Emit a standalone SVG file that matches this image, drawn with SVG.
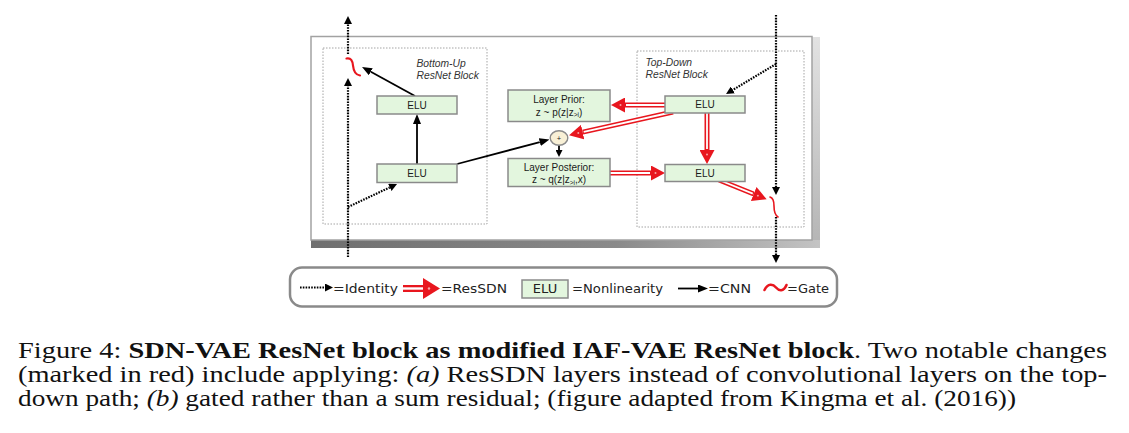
<svg xmlns="http://www.w3.org/2000/svg" width="1129" height="433" viewBox="0 0 1129 433">
<defs>
<style>
.sans{font-family:"Liberation Sans",Arial,sans-serif;fill:#1a1a1a}
.lbl{font-family:"Liberation Sans",Arial,sans-serif;font-style:italic;font-size:10.3px;fill:#333}
.box{fill:#e3f6de;stroke:#8a8a8a;stroke-width:1.5}
.blk{fill:none;stroke:#9a9a9a;stroke-width:0.9;stroke-dasharray:1.5 1.5}
.id{fill:none;stroke:#000;stroke-width:2.2;stroke-dasharray:1.6 1.2}
.cnn{fill:none;stroke:#000;stroke-width:1.8}
.so{fill:none;stroke:#e8161e;stroke-width:5}
.si{fill:none;stroke:#fff;stroke-width:1.8}
.gate{fill:none;stroke:#e8161e;stroke-linecap:round}
.lg{font-family:"DejaVu Sans",Verdana,sans-serif;font-size:13px;fill:#222}
.cap{font-family:"Liberation Serif","Times New Roman",serif;font-size:24px;fill:#111}
</style>
<marker id="idh" markerUnits="userSpaceOnUse" markerWidth="8" markerHeight="8" viewBox="0 0 8 8" refX="0" refY="4" orient="auto"><path d="M0,0 L8,4 L0,8 Z" fill="#000"/></marker>
<marker id="cnnh" markerUnits="userSpaceOnUse" markerWidth="10" markerHeight="8" viewBox="0 0 10 8" refX="0" refY="4" orient="auto"><path d="M0,0 L10,4 L0,8 Z" fill="#000"/></marker>
<marker id="cnns" markerUnits="userSpaceOnUse" markerWidth="7" markerHeight="7" viewBox="0 0 7 7" refX="0" refY="3.5" orient="auto"><path d="M0,0 L7,3.5 L0,7 Z" fill="#000"/></marker>
<marker id="sdnh" markerUnits="userSpaceOnUse" markerWidth="14" markerHeight="15" viewBox="0 0 14 15" refX="0" refY="7.5" orient="auto"><path d="M0,0 L14,7.5 L0,15 Z" fill="#e8161e"/><circle cx="4.5" cy="7.5" r="1" fill="#f6a3a3"/></marker>
<linearGradient id="shB" x1="0" y1="0" x2="1" y2="0"><stop offset="0" stop-color="#6f6f6f"/><stop offset="0.6" stop-color="#8a8a8a"/><stop offset="1" stop-color="#c4c4c4"/></linearGradient>
<linearGradient id="shR" x1="0" y1="0" x2="0" y2="1"><stop offset="0" stop-color="#e2e2e2"/><stop offset="1" stop-color="#b4b4b4"/></linearGradient>
</defs>

<g id="panel">
<rect x="812" y="37" width="8" height="211" fill="url(#shR)"/>
<rect x="311" y="240" width="509" height="8" fill="url(#shB)"/>
<rect x="311" y="36.5" width="501" height="203.5" fill="#fff" stroke="#a2a2a2" stroke-width="1.5"/>
</g>

<g id="bottom-up-block">
<rect class="blk" x="323" y="48" width="164" height="176"/>
<text class="lbl" x="416.5" y="66.5">Bottom-Up</text>
<text class="lbl" x="416.5" y="78.5">ResNet Block</text>
</g>
<g id="top-down-block">
<rect class="blk" x="637" y="51" width="167" height="176"/>
<text class="lbl" x="645.5" y="66">Top-Down</text>
<text class="lbl" x="645.5" y="78">ResNet Block</text>
</g>

<g id="connectors">
<path class="id" d="M348,257 L348,86" marker-end="url(#idh)"/>
<path class="id" d="M348,54 L348,24" marker-end="url(#idh)"/>
<path class="id" d="M348,207 L389.8,187.4" marker-end="url(#idh)"/>
<path class="id" d="M776,15 L776,187" marker-end="url(#idh)"/>
<path class="id" d="M776,217 L776,255" marker-end="url(#idh)"/>
<path class="id" d="M776,64 L732.9,89.9" marker-end="url(#idh)"/>
<path class="cnn" d="M417,165 L417,124" marker-end="url(#cnnh)"/>
<path class="cnn" d="M415,96 L370.8,71.8" marker-end="url(#cnnh)"/>
<path class="cnn" d="M457,164 L539.8,142.1" marker-end="url(#cnnh)"/>
<path class="cnn" d="M559,145 L559,150" marker-end="url(#cnns)"/>
<path class="so" d="M667,105 L625,105" marker-end="url(#sdnh)"/>
<path class="si" d="M667,105 L626,105"/>
<path class="so" d="M673,112 L582.7,132.1" marker-end="url(#sdnh)"/>
<path class="si" d="M673,112 L583.7,131.9"/>
<path class="so" d="M707,112 L707,150" marker-end="url(#sdnh)"/>
<path class="si" d="M707,112 L707,149"/>
<path class="so" d="M609,173 L651,173" marker-end="url(#sdnh)"/>
<path class="si" d="M609,173 L650,173"/>
<path class="so" d="M719,180 L753.7,194" marker-end="url(#sdnh)"/>
<path class="si" d="M719,180 L752.8,193.6"/>
</g>

<g id="bu-elu-top">
<rect class="box" x="377" y="96" width="80" height="18"/>
<text class="sans" x="417" y="108.5" font-size="10" text-anchor="middle">ELU</text>
</g>
<g id="bu-elu-bottom">
<rect class="box" x="377" y="164" width="80" height="18.5"/>
<text class="sans" x="417" y="176.8" font-size="10" text-anchor="middle">ELU</text>
</g>
<g id="td-elu-top">
<rect class="box" x="665" y="96" width="80" height="17"/>
<text class="sans" x="705" y="108" font-size="10" text-anchor="middle">ELU</text>
</g>
<g id="td-elu-bottom">
<rect class="box" x="665" y="164.5" width="80" height="17"/>
<text class="sans" x="705" y="176.5" font-size="10" text-anchor="middle">ELU</text>
</g>
<g id="layer-prior">
<rect class="box" x="508" y="90" width="102" height="31.5"/>
<text class="sans" x="559" y="103" font-size="10" text-anchor="middle">Layer Prior:</text>
<text class="sans" x="559" y="115.5" font-size="10" text-anchor="middle">z ~ p(z|z<tspan font-size="6.5" dy="1.5">&gt;i</tspan><tspan dy="-1.5">)</tspan></text>
</g>
<g id="layer-posterior">
<rect class="box" x="508" y="158.5" width="102" height="28"/>
<text class="sans" x="559" y="170.5" font-size="10" text-anchor="middle">Layer Posterior:</text>
<text class="sans" x="559" y="183" font-size="10" text-anchor="middle">z ~ q(z|z<tspan font-size="6.5" dy="1.5">&gt;i</tspan><tspan dy="-1.5">,x)</tspan></text>
</g>
<g id="sum">
<ellipse cx="559" cy="138" rx="8.8" ry="7.2" fill="#f8f0d6" stroke="#8a8a8a" stroke-width="1.4"/>
<text class="sans" x="559" y="140.5" font-size="7.5" text-anchor="middle">+</text>
</g>
<g id="gate-bu">
<path class="gate" stroke-width="2.2" d="M346.5,58.5 C351,57.5 352.5,61 353,65.5 C353.5,70.5 355.5,75 360,75.5"/>
</g>
<g id="gate-td">
<path class="gate" stroke-width="1.6" d="M770,197 C773.5,198 774,202 774,206 C774,211 775,215 778,217"/>
</g>

<g id="legend">
<rect x="290" y="267.5" width="547" height="39" rx="12" fill="#fff" stroke="#8a8a8a" stroke-width="2.5"/>
<path class="id" stroke-width="1.8" d="M300,287.5 L325,287.5" marker-end="url(#idh)"/>
<text class="lg" x="333" y="292.5" textLength="65" lengthAdjust="spacingAndGlyphs">=Identity</text>
<path fill="none" stroke="#e8161e" stroke-width="7" d="M403,288.5 L424,288.5"/>
<path fill="none" stroke="#fff" stroke-width="2.4" d="M403,288.5 L424,288.5"/>
<path d="M423,278 L440,288.5 L423,299 Z" fill="#e8161e"/>
<circle cx="429" cy="288.5" r="1.2" fill="#f6a3a3"/>
<text class="lg" x="441" y="292.5" textLength="66" lengthAdjust="spacingAndGlyphs">=ResSDN</text>
<rect class="box" x="522" y="280" width="46" height="18"/>
<text class="lg" x="545" y="293" font-size="12" text-anchor="middle">ELU</text>
<text class="lg" x="572" y="292.5" textLength="91" lengthAdjust="spacingAndGlyphs">=Nonlinearity</text>
<path class="cnn" d="M678,288.5 L698,288.5" marker-end="url(#cnnh)"/>
<text class="lg" x="708" y="292.5" textLength="43" lengthAdjust="spacingAndGlyphs">=CNN</text>
<path class="gate" stroke-width="2.6" d="M764.5,290 C768,283 773,284 776,287.5 C779,291 783.5,292 786.5,285"/>
<text class="lg" x="787" y="292.5" textLength="42" lengthAdjust="spacingAndGlyphs">=Gate</text>
</g>

<g id="caption">
<text class="cap" x="18" y="357.5" textLength="1089" lengthAdjust="spacingAndGlyphs">Figure 4:  <tspan font-weight="bold">SDN-VAE ResNet block as modified IAF-VAE ResNet block</tspan>.  Two notable changes</text>
<text class="cap" x="18" y="381.8" textLength="1089" lengthAdjust="spacingAndGlyphs">(marked in red) include applying:  <tspan font-style="italic">(a)</tspan> ResSDN layers instead of convolutional layers on the top-</text>
<text class="cap" x="18" y="406" textLength="998" lengthAdjust="spacingAndGlyphs">down path; <tspan font-style="italic">(b)</tspan> gated rather than a sum residual; (figure adapted from Kingma et al. (2016))</text>
</g>
</svg>
